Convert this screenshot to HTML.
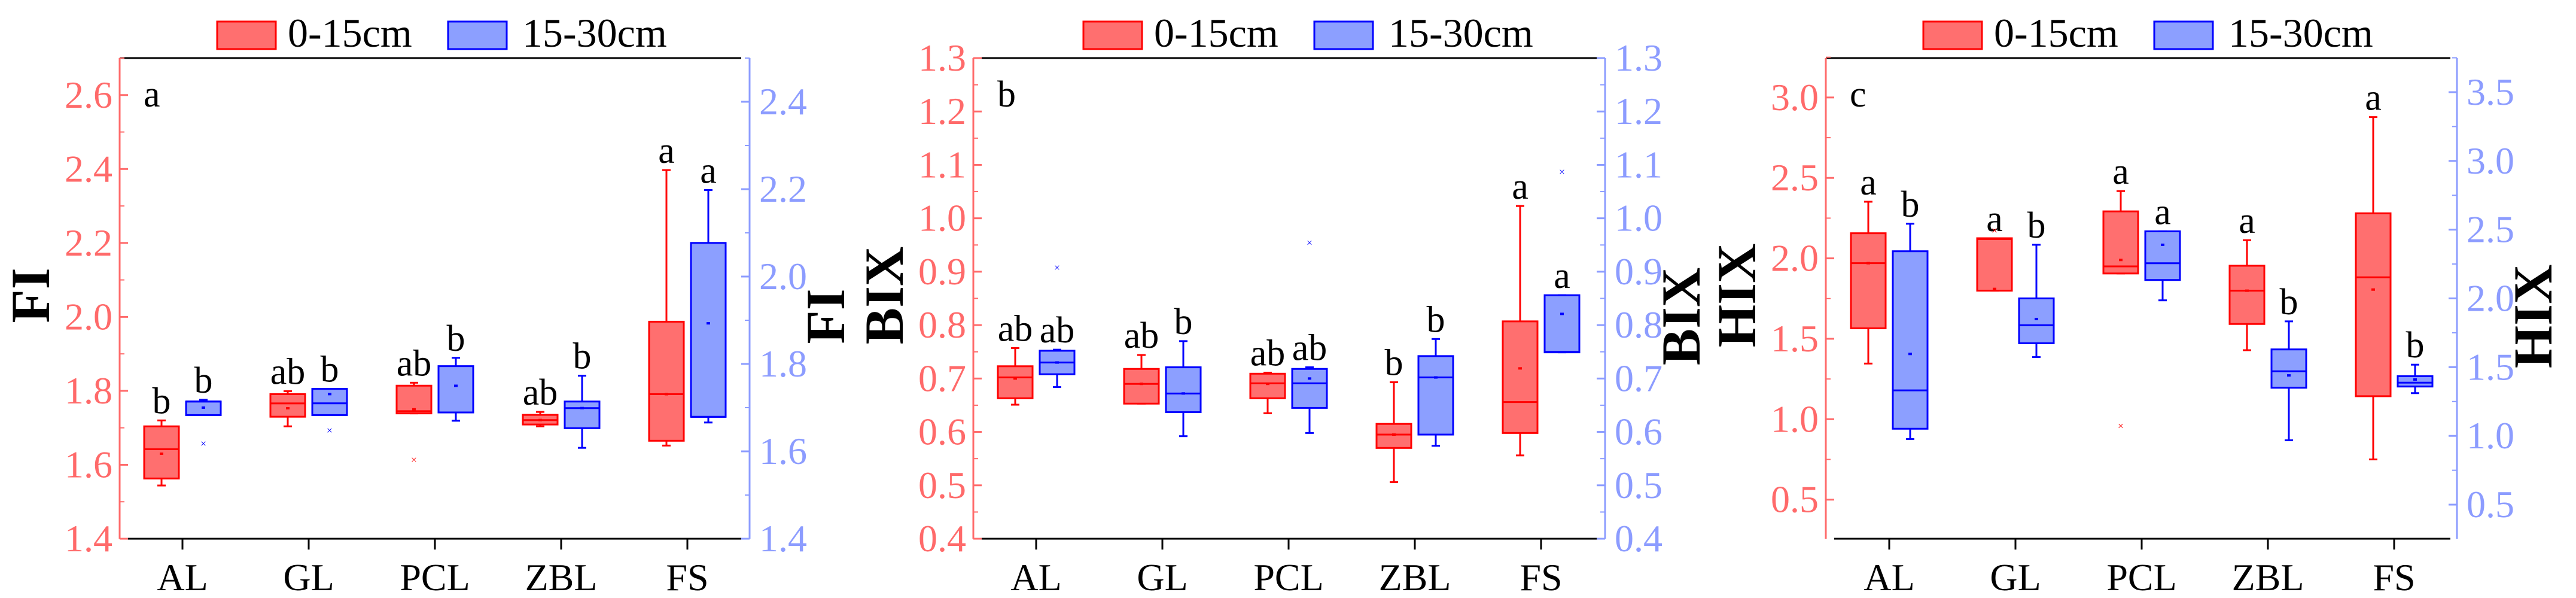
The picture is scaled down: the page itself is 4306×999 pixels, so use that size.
<!DOCTYPE html>
<html><head><meta charset="utf-8"><style>
html,body{margin:0;padding:0;background:#fff;}
svg{display:block;}
svg text{font-family:"Liberation Serif",serif;}
</style></head><body>
<svg id="chart" width="4306" height="999" viewBox="0 0 4306 999" xmlns="http://www.w3.org/2000/svg" font-family="Liberation Serif, serif"></svg>
<script>
const categories = ["AL","GL","PCL","ZBL","FS"];
const seriesNames = ["0-15cm","15-30cm"];
// box stats per category: [whiskerLow, q1, median, q3, whiskerHigh]
const fiRedBox = [[1.544,1.563,1.642,1.704,1.72],[1.704,1.730,1.766,1.791,1.799],[1.739,1.739,1.745,1.814,1.822],[1.704,1.709,1.721,1.735,1.743],[1.652,1.665,1.791,1.987,2.397]];
const fiBlueBox = [[1.683,1.683,1.714,1.714,1.718],[1.683,1.683,1.710,1.743,1.743],[1.670,1.689,1.689,1.795,1.814],[1.608,1.653,1.699,1.714,1.773],[1.666,1.679,1.679,2.077,2.198]];
const fiRedMean = [1.63,1.753,1.75,1.721,1.791];
const fiBlueMean = [1.70,1.731,1.75,1.699,1.893];
const fiRedOut = [[2,1.614]];
const fiBlueOut = [[0,1.618],[1,1.648]];
const fiRedLetters = ["b","ab","ab","ab","a"];
const fiBlueLetters = ["b","b","b","b","a"];

const bixRedBox = [[0.651,0.663,0.702,0.723,0.757],[0.653,0.653,0.69,0.718,0.744],[0.635,0.663,0.691,0.709,0.711],[0.506,0.570,0.595,0.615,0.693],[0.556,0.598,0.656,0.807,1.023]];
const bixBlueBox = [[0.684,0.708,0.73,0.752,0.754],[0.592,0.637,0.672,0.721,0.770],[0.598,0.645,0.691,0.718,0.721],[0.574,0.595,0.702,0.742,0.774],[0.749,0.749,0.75,0.856,0.856]];
const bixRedMean = [0.70,0.69,0.69,0.595,0.719];
const bixBlueMean = [0.73,0.672,0.70,0.702,0.821];
const bixRedOut = [];
const bixBlueOut = [[0,0.908],[2,0.954],[4,1.087]];
const bixRedLetters = ["ab","ab","ab","b","a"];
const bixBlueLetters = ["ab","b","ab","b","a"];

const hixRedBox = [[1.346,1.565,1.970,2.156,2.352],[1.799,1.799,2.12,2.125,2.125],[1.906,1.906,1.95,2.292,2.418],[1.429,1.592,1.799,1.954,2.113],[0.750,1.143,1.882,2.280,2.878]];
const hixBlueBox = [[0.977,1.052,1.331,2.343,2.543],[1.573,1.674,1.805,2.000,2.390],[1.986,2.134,2.256,2.488,2.488],[0.968,1.350,1.470,1.629,1.833],[1.311,1.359,1.387,1.434,1.518]];
const hixRedMean = [1.97,1.81,1.99,1.799,1.806];
const hixBlueMean = [1.596,1.85,2.39,1.44,1.41];
const hixRedOut = [[1,2.173],[2,0.958]];
const hixBlueOut = [];
const hixRedLetters = ["a","a","a","a","a"];
const hixBlueLetters = ["b","b","a","b","b"];

const NS="http://www.w3.org/2000/svg";
const svg=document.getElementById('chart');
const FONT='"Liberation Serif", serif';
function mk(tag,attrs,parent){const e=document.createElementNS(NS,tag);for(const k in attrs)e.setAttribute(k,attrs[k]);if(tag==='text')e.setAttribute('font-family',FONT);(parent||svg).appendChild(e);return e;}
const RED_S="#ff0000",RED_F="#ff6f6f",BLUE_S="#0000ff",BLUE_F="#8c9fff",RED_AX="#ff6a6a",BLUE_AX="#8c9cff";

function panel(cfg){
  const g=mk('g',{});
  
  
  const T=97,B=900;
  const yR=v=>B-(v-cfg.rDom[0])/(cfg.rDom[1]-cfg.rDom[0])*(B-T);
  const yB=v=>B-(v-cfg.bDom[0])/(cfg.bDom[1]-cfg.bDom[0])*(B-T);
  const xC=i=>cfg.x0+i*cfg.step;
  let e=mk('line',{x1:cfg.L,y1:T,x2:cfg.R,y2:T,stroke:'#000','stroke-width':3},g);
  
  e=mk('line',{x1:cfg.L+14,y1:B,x2:cfg.R,y2:B,stroke:'#000','stroke-width':3},g);
  
  e=mk('line',{x1:cfg.L,y1:T,x2:cfg.L,y2:B,stroke:RED_AX,'stroke-width':3},g);
  
  e=mk('line',{x1:cfg.RA,y1:T,x2:cfg.RA,y2:B,stroke:BLUE_AX,'stroke-width':3},g);
  
  cfg.rTicks.forEach(v=>{const y=yR(v);
    mk('line',{x1:cfg.L,y1:y,x2:cfg.L+14,y2:y,stroke:RED_AX,'stroke-width':3},g);
    const t=mk('text',{x:cfg.L-12,y:y+21,'text-anchor':'end','font-size':64,fill:RED_AX},g);
    t.textContent=v.toFixed(1);
    
  });
  cfg.rMinor.forEach(v=>{const y=yR(v);mk('line',{x1:cfg.L,y1:y,x2:cfg.L+8,y2:y,stroke:RED_AX,'stroke-width':2},g);});
  cfg.bTicks.forEach(v=>{const y=yB(v);
    mk('line',{x1:cfg.RA-14,y1:y,x2:cfg.RA,y2:y,stroke:BLUE_AX,'stroke-width':3},g);
    const t=mk('text',{x:cfg.RA+16,y:y+21,'text-anchor':'start','font-size':64,fill:BLUE_AX},g);
    t.textContent=v.toFixed(1);
    
  });
  cfg.bMinor.forEach(v=>{const y=yB(v);mk('line',{x1:cfg.RA-8,y1:y,x2:cfg.RA,y2:y,stroke:BLUE_AX,'stroke-width':2},g);});
  let t=mk('text',{x:0,y:0,'text-anchor':'middle','font-size':92,'font-weight':'bold',fill:'#000',transform:`translate(${cfg.L-118},${(T+B)/2-5}) rotate(-90)`},g);
  t.textContent=cfg.title;
  t=mk('text',{x:0,y:0,'text-anchor':'middle','font-size':92,'font-weight':'bold',fill:'#000',transform:`translate(${cfg.RA+158},${(T+B)/2+30}) rotate(-90)`},g);
  t.textContent=cfg.title;
  t=mk('text',{x:cfg.L+40,y:178,'font-size':62,fill:'#000'},g);
  t.textContent=cfg.tag;
  categories.forEach((c,i)=>{const x=xC(i);
    mk('line',{x1:x,y1:B,x2:x,y2:B+18,stroke:'#000','stroke-width':3},g);
    const tt=mk('text',{x:x,y:B+86,'text-anchor':'middle','font-size':64,fill:'#000'},g);
    tt.textContent=c;
  });
  function series(box,mean,outs,letters,ys,dx,stroke,fill,nm){
    box.forEach((s,i)=>{const cx=xC(i)+dx,w=58;
      const bg=mk('g',{},g);
      
      
      mk('line',{x1:cx,y1:ys(s[0]),x2:cx,y2:ys(s[4]),stroke:stroke,'stroke-width':3},bg);
      mk('line',{x1:cx-7,y1:ys(s[0]),x2:cx+7,y2:ys(s[0]),stroke:stroke,'stroke-width':3},bg);
      mk('line',{x1:cx-7,y1:ys(s[4]),x2:cx+7,y2:ys(s[4]),stroke:stroke,'stroke-width':3},bg);
      mk('rect',{x:cx-w/2,y:ys(s[3]),width:w,height:Math.max(1,ys(s[1])-ys(s[3])),fill:fill,stroke:stroke,'stroke-width':3},bg);
      mk('line',{x1:cx-w/2,y1:ys(s[2]),x2:cx+w/2,y2:ys(s[2]),stroke:stroke,'stroke-width':3},bg);
      mk('rect',{x:cx-3,y:ys(mean[i])-2,width:6,height:4,fill:stroke},bg);
      const lt=mk('text',{x:cx,y:ys(s[4])-12,'text-anchor':'middle','font-size':62,fill:'#000'},g);
      lt.textContent=letters[i];
      
      
    });
    outs.forEach(o=>{const cx=xC(o[0])+dx,y=ys(o[1]);
      const ot=mk('text',{x:cx,y:y+6,'text-anchor':'middle','font-size':18,fill:stroke},g);
      ot.textContent='×';
      
      
    });
  }
  series(cfg.rBox,cfg.rMean,cfg.rOut,cfg.rLet,yR,-35,RED_S,RED_F,'red');
  series(cfg.bBox,cfg.bMean,cfg.bOut,cfg.bLet,yB,35,BLUE_S,BLUE_F,'blue');
  const lg=mk('g',{},g);
  
  const lx=cfg.legX;
  mk('rect',{x:lx,y:36,width:98,height:46,fill:RED_F,stroke:RED_S,'stroke-width':3},lg);
  let l1=mk('text',{x:lx+118,y:78,'font-size':68,fill:'#000'},lg);l1.textContent=seriesNames[0];
  
  mk('rect',{x:lx+386,y:36,width:98,height:46,fill:BLUE_F,stroke:BLUE_S,'stroke-width':3},lg);
  let l2=mk('text',{x:lx+510,y:78,'font-size':68,fill:'#000'},lg);l2.textContent=seriesNames[1];
  
}
function rng(a,b,s){const r=[];for(let v=a;v<=b+1e-9;v+=s)r.push(Math.round(v*1000)/1000);return r;}
panel({name:'fi-panel',title:'FI',tag:'a',L:200,R:1239,RA:1253,x0:305,step:211,legX:363,
  rDom:[1.4,2.7],bDom:[1.4,2.5],rTicks:rng(1.4,2.6,0.2),rMinor:rng(1.5,2.7,0.2),bTicks:rng(1.4,2.4,0.2),bMinor:rng(1.5,2.5,0.2),
  rBox:fiRedBox,bBox:fiBlueBox,rMean:fiRedMean,bMean:fiBlueMean,rOut:fiRedOut,bOut:fiBlueOut,rLet:fiRedLetters,bLet:fiBlueLetters});
panel({name:'bix-panel',title:'BIX',tag:'b',L:1627,R:2669,RA:2683,x0:1732,step:211,legX:1811,
  rDom:[0.4,1.3],bDom:[0.4,1.3],rTicks:rng(0.4,1.3,0.1),rMinor:rng(0.45,1.25,0.1),bTicks:rng(0.4,1.3,0.1),bMinor:rng(0.45,1.25,0.1),
  rBox:bixRedBox,bBox:bixBlueBox,rMean:bixRedMean,bMean:bixBlueMean,rOut:bixRedOut,bOut:bixBlueOut,rLet:bixRedLetters,bLet:bixBlueLetters});
panel({name:'hix-panel',title:'HIX',tag:'c',L:3052,R:4096,RA:4107,x0:3158,step:211,legX:3215,
  rDom:[0.257,3.245],bDom:[0.252,3.748],rTicks:rng(0.5,3.0,0.5),rMinor:rng(0.75,3.25,0.5),bTicks:rng(0.5,3.5,0.5),bMinor:rng(0.75,3.75,0.5),
  rBox:hixRedBox,bBox:hixBlueBox,rMean:hixRedMean,bMean:hixBlueMean,rOut:hixRedOut,bOut:hixBlueOut,rLet:hixRedLetters,bLet:hixBlueLetters});
</script>
</body></html>
